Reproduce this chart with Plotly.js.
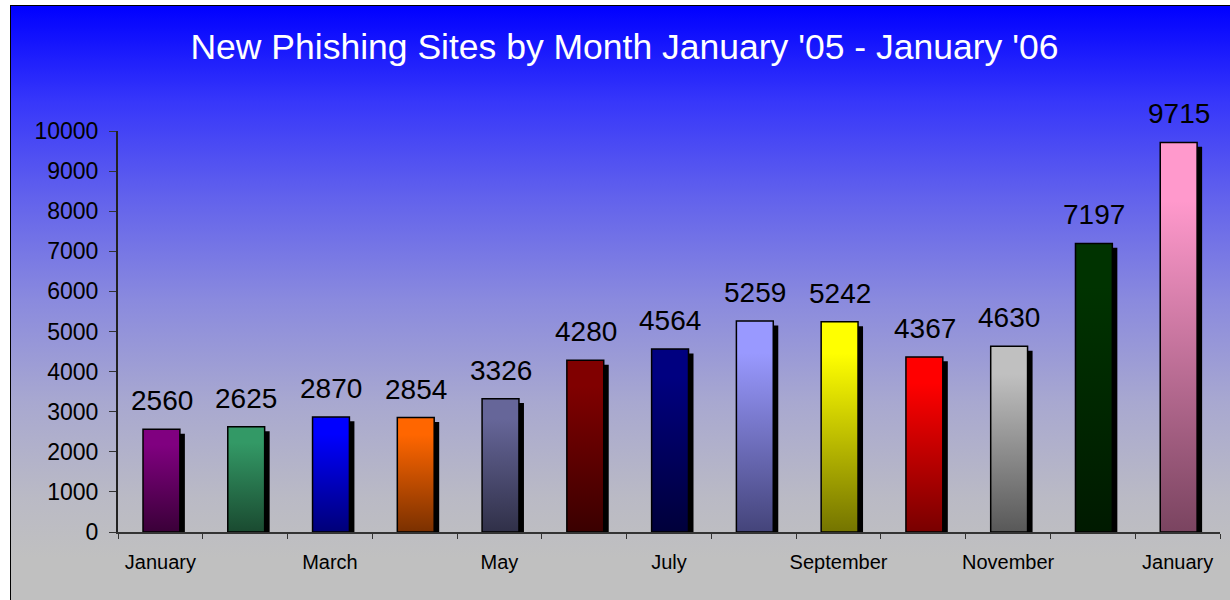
<!DOCTYPE html>
<html><head><meta charset="utf-8">
<script src="https://cdn.plot.ly/plotly-3.0.1.min.js"></script>
<style>
html,body{margin:0;padding:0;background:#fff;width:1230px;height:600px;overflow:hidden}
#bg{position:absolute;left:10px;top:5px;width:1230px;height:600px;border-left:1px solid #000;border-top:1px solid #000;
background:linear-gradient(to bottom,#0000ff 0%,rgb(55,55,250) 16%,rgb(98,98,236) 32%,rgb(138,138,222) 49%,rgb(168,168,208) 66%,rgb(186,186,197) 82%,#c0c0c0 92%,#c0c0c0 100%)}
#chart{position:absolute;left:0;top:0;width:1230px;height:600px}
</style></head>
<body><div id="bg"></div><div id="chart"></div>
<script>
const months = ['January','February','March','April','May','June','July','August','September','October','November','December','January'];
const values = [2560, 2625, 2870, 2854, 3326, 4280, 4564, 5259, 5242, 4367, 4630, 7197, 9715];
const tickLabels = ['January','March','May','July','September','November','January'];
const topColors = ['#800080','#339966','#0000ff','#ff6600','#666699','#800000','#000080','#9999ff','#ffff00','#ff0000','#c0c0c0','#003300','#ff99cc'];
const bottomColors = ['#3a0038','#1a4a30','#000078','#7a3000','#303048','#3a0000','#00003a','#44447a','#747400','#780000','#585858','#001a00','#7a4460'];
const titleText = "New Phishing Sites by Month January '05 - January '06";

const xs = months.map((_, i) => i);
const boundaries = months.map((_, i) => i - 0.5).concat([months.length - 0.5]);
const labelPos = tickLabels.map((_, i) => i * 2);
const FONT = 'Liberation Sans, Arial, sans-serif';

const shadow = {
  type: 'bar', name: 'shadow', x: xs, y: values, base: -110,
  xaxis: 'x', yaxis: 'y', width: 0.435, offset: -0.146,
  marker: {color: '#000000', line: {width: 0}}, hoverinfo: 'skip'
};
const main = {
  type: 'bar', name: 'main', x: xs, y: values,
  xaxis: 'x2', yaxis: 'y', width: 0.435, offset: -0.205,
  marker: {color: topColors, line: {color: '#000000', width: 1.5}}, hoverinfo: 'skip'
};

const annotations = values.map((v, i) => ({
  x: i + 0.015, y: v, xref: 'x2', yref: 'y', text: String(v), showarrow: false,
  yanchor: 'bottom', xanchor: 'center', yshift: 11,
  font: {family: FONT, size: 28, color: '#000000'}
}));

const layout = {
  width: 1230, height: 600,
  margin: {l: 118, r: 10, t: 131, b: 68},
  paper_bgcolor: 'rgba(0,0,0,0)', plot_bgcolor: 'rgba(0,0,0,0)',
  showlegend: false, barmode: 'overlay', hovermode: false,
  title: {text: titleText, font: {family: FONT, size: 35.5, color: '#ffffff'},
          xref: 'container', yref: 'container', x: 0.5077, y: 0.922, xanchor: 'center', yanchor: 'middle'},
  xaxis: {range: [-0.5, 12.5], tickmode: 'array', tickvals: boundaries, showticklabels: false,
          ticks: 'outside', ticklen: 5, tickcolor: '#333333', tickwidth: 1,
          showline: true, linecolor: '#333333', linewidth: 1.5, showgrid: false, zeroline: false, fixedrange: true},
  xaxis2: {range: [-0.5, 12.5], overlaying: 'x', anchor: 'y', side: 'bottom', tickmode: 'array',
           tickvals: labelPos, ticktext: tickLabels, ticks: '', showline: false, showgrid: false, zeroline: false,
           tickfont: {family: FONT, size: 20, color: '#000000'}, ticklabelstandoff: 16, fixedrange: true},
  yaxis: {range: [0, 10000], tickmode: 'linear', tick0: 0, dtick: 1000, ticks: 'outside', ticklen: 7,
          tickcolor: '#333333', showline: true, linecolor: '#222222', linewidth: 2, showgrid: false, zeroline: false,
          exponentformat: 'none', separatethousands: false, tickformat: 'd',
          tickfont: {family: FONT, size: 23, color: '#000000'}, ticklabelstandoff: 6, fixedrange: true},
  annotations: annotations
};

const gd = document.getElementById('chart');
Plotly.newPlot(gd, [shadow, main], layout, {staticPlot: true, displayModeBar: false}).then(() => {
  const svg = gd.querySelector('svg.main-svg');
  const ns = 'http://www.w3.org/2000/svg';
  let defs = svg.querySelector('defs');
  if (!defs) { defs = document.createElementNS(ns, 'defs'); svg.insertBefore(defs, svg.firstChild); }
  topColors.forEach((c, i) => {
    const g = document.createElementNS(ns, 'linearGradient');
    g.setAttribute('id', 'bargrad' + i);
    g.setAttribute('x1', '0'); g.setAttribute('y1', '0'); g.setAttribute('x2', '0'); g.setAttribute('y2', '1');
    [[0, c], [0.15, c], [1, bottomColors[i]]].forEach(([o, col]) => {
      const s = document.createElementNS(ns, 'stop');
      s.setAttribute('offset', o); s.setAttribute('stop-color', col);
      g.appendChild(s);
    });
    defs.appendChild(g);
  });
  gd.querySelectorAll('.barlayer .trace').forEach(tr => {
    const d = tr.__data__;
    if (d && d[0] && d[0].trace && d[0].trace.name === 'main') {
      tr.querySelectorAll('.point path').forEach((p, i) => { p.style.fill = 'url(#bargrad' + i + ')'; });
    }
  });
});
</script>
</body></html>
